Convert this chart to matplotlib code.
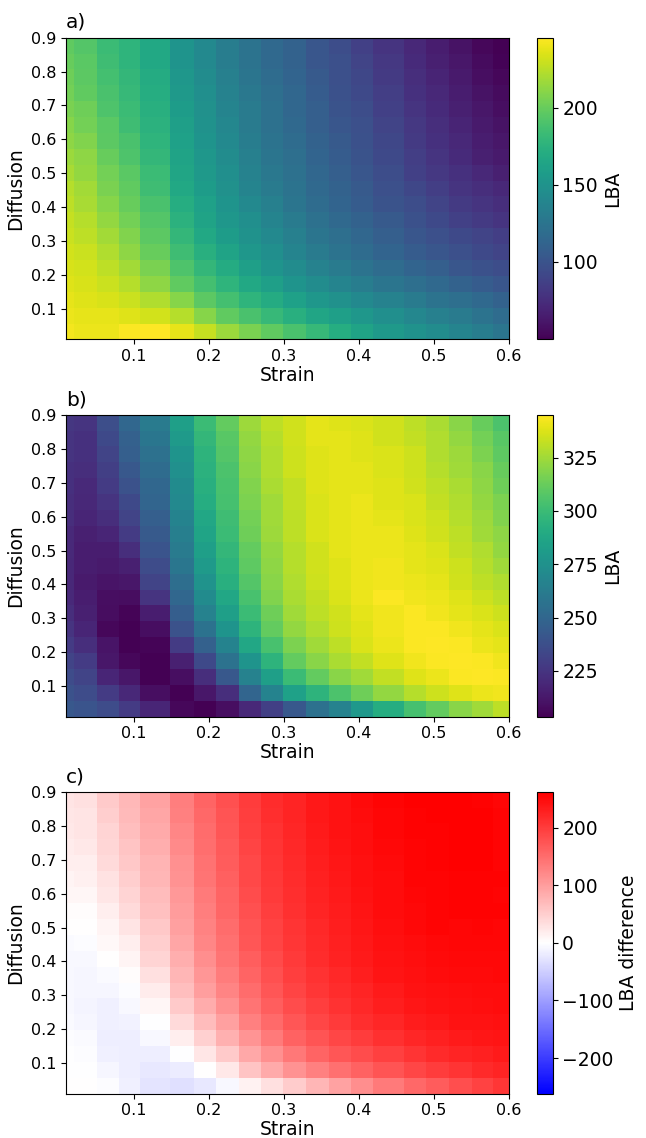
import numpy as np
import matplotlib
matplotlib.use("Agg")
import matplotlib.pyplot as plt

# grid edges (strain columns, diffusion rows)
strain_edges = [0.010, 0.021, 0.051, 0.080, 0.109, 0.149, 0.180, 0.210, 0.240, 0.269, 0.299,
                0.330, 0.360, 0.390, 0.419, 0.460, 0.490, 0.520, 0.550, 0.579, 0.600]
diffusion_edges = [0.010, 0.057, 0.104, 0.151, 0.197, 0.244, 0.291, 0.338, 0.385, 0.432,
                   0.478, 0.525, 0.572, 0.619, 0.666, 0.713, 0.760, 0.807, 0.853, 0.900]

# LBA, one list per strain column, diffusion ascending
lba_a_cols = [
    [242, 240, 238, 236, 234, 232, 230, 228, 226, 224, 220, 216, 212, 210, 206, 204, 202, 200, 198],
    [240, 238, 236, 234, 232, 230, 226, 224, 220, 218, 214, 212, 208, 204, 202, 198, 196, 195, 193],
    [240, 238, 234, 230, 226, 222, 218, 214, 210, 206, 204, 200, 196, 195, 191, 189, 187, 185, 183],
    [244, 236, 230, 224, 218, 212, 208, 204, 200, 198, 195, 191, 189, 185, 183, 181, 179, 177, 177],
    [245, 232, 222, 212, 206, 200, 196, 193, 189, 185, 183, 179, 177, 175, 173, 171, 169, 167, 167],
    [238, 224, 210, 198, 191, 185, 179, 175, 171, 167, 165, 163, 161, 159, 157, 155, 153, 151, 151],
    [228, 210, 196, 187, 179, 173, 167, 163, 161, 157, 155, 153, 151, 149, 148, 146, 144, 142, 142],
    [216, 198, 187, 177, 169, 163, 157, 153, 151, 148, 146, 144, 142, 140, 138, 136, 134, 132, 132],
    [206, 189, 177, 167, 159, 153, 149, 146, 142, 138, 136, 134, 132, 130, 130, 128, 126, 124, 124],
    [198, 181, 169, 159, 151, 146, 142, 138, 134, 130, 128, 126, 124, 122, 122, 120, 118, 116, 116],
    [189, 173, 161, 151, 144, 138, 134, 130, 126, 124, 122, 120, 118, 116, 114, 114, 112, 110, 110],
    [181, 165, 153, 144, 136, 130, 126, 122, 118, 116, 114, 112, 110, 108, 108, 106, 104, 102, 102],
    [171, 159, 148, 138, 130, 124, 120, 116, 112, 110, 108, 106, 104, 102, 100, 98, 97, 97, 95],
    [163, 153, 142, 132, 124, 118, 114, 110, 106, 104, 102, 100, 98, 97, 95, 93, 91, 89, 87],
    [155, 146, 136, 126, 118, 112, 108, 104, 100, 97, 95, 93, 91, 89, 87, 85, 83, 81, 79],
    [149, 140, 130, 120, 112, 106, 102, 98, 95, 91, 87, 85, 83, 81, 79, 77, 75, 73, 71],
    [144, 134, 124, 116, 108, 102, 97, 93, 89, 85, 81, 79, 77, 75, 73, 71, 69, 67, 65],
    [138, 130, 120, 110, 102, 97, 93, 87, 83, 79, 77, 73, 71, 69, 67, 65, 63, 61, 59],
    [132, 124, 116, 106, 98, 93, 89, 83, 79, 75, 71, 67, 65, 63, 61, 59, 57, 55, 53],
    [126, 118, 110, 102, 95, 89, 85, 79, 75, 71, 67, 63, 61, 59, 57, 55, 53, 51, 50],
]

lba_b_cols = [
    [242, 239, 236, 232, 228, 225, 222, 220, 219, 219, 220, 220, 222, 222, 223, 223, 225, 225, 226],
    [240, 236, 232, 228, 222, 218, 216, 215, 213, 215, 215, 216, 218, 219, 220, 222, 223, 223, 225],
    [236, 228, 218, 212, 211, 206, 208, 209, 211, 213, 215, 218, 222, 225, 228, 230, 232, 235, 237],
    [228, 219, 212, 206, 204, 204, 205, 208, 212, 216, 222, 228, 232, 235, 239, 242, 246, 247, 250],
    [218, 209, 204, 204, 205, 209, 215, 225, 232, 236, 240, 243, 246, 249, 250, 253, 256, 259, 262],
    [206, 204, 209, 216, 228, 239, 245, 250, 254, 259, 262, 264, 267, 270, 271, 274, 277, 280, 283],
    [204, 212, 222, 235, 247, 257, 266, 271, 276, 280, 283, 286, 288, 291, 293, 294, 295, 297, 300],
    [209, 222, 242, 257, 267, 277, 283, 288, 293, 295, 297, 300, 301, 303, 304, 305, 307, 308, 311],
    [219, 249, 266, 277, 288, 295, 300, 304, 307, 310, 311, 314, 315, 317, 318, 320, 321, 322, 324],
    [230, 267, 283, 295, 304, 311, 314, 318, 320, 321, 322, 324, 325, 325, 327, 328, 328, 329, 331],
    [242, 284, 300, 311, 317, 322, 325, 327, 328, 329, 329, 331, 331, 332, 332, 334, 334, 335, 335],
    [256, 295, 311, 320, 325, 328, 331, 332, 334, 335, 335, 337, 337, 337, 338, 338, 338, 339, 339],
    [266, 305, 320, 327, 331, 334, 335, 337, 338, 338, 339, 339, 339, 339, 339, 339, 339, 339, 338],
    [279, 314, 325, 332, 337, 338, 339, 341, 341, 341, 341, 341, 341, 341, 339, 339, 338, 338, 337],
    [291, 322, 332, 338, 341, 342, 342, 344, 342, 342, 341, 341, 339, 338, 338, 337, 337, 335, 335],
    [303, 329, 338, 342, 344, 344, 344, 342, 341, 339, 339, 338, 337, 337, 335, 334, 334, 332, 331],
    [311, 334, 341, 344, 345, 344, 342, 341, 339, 338, 337, 335, 334, 332, 331, 329, 328, 328, 327],
    [320, 338, 344, 345, 344, 342, 339, 338, 335, 334, 332, 331, 329, 328, 327, 325, 324, 322, 320],
    [325, 341, 345, 344, 341, 339, 337, 334, 331, 329, 328, 325, 324, 322, 321, 320, 317, 315, 312],
    [331, 342, 344, 342, 339, 337, 334, 331, 328, 325, 322, 321, 318, 317, 314, 312, 310, 308, 305],
]

lba_a = np.array(lba_a_cols, dtype=float).T
lba_b = np.array(lba_b_cols, dtype=float).T
lba_diff = lba_b - lba_a
lim = np.abs(lba_diff).max()

panels = [
    ("a)", lba_a, "viridis", 49.5, 245.5, [100, 150, 200], "LBA"),
    ("b)", lba_b, "viridis", 203.5, 345.0, [225, 250, 275, 300, 325], "LBA"),
    ("c)", lba_diff, "bwr", -lim, lim, [-200, -100, 0, 100, 200], "LBA difference"),
]

fig = plt.figure(figsize=(6.46, 11.38), dpi=100)
bottoms = [0.7017, 0.3702, 0.0389]

for (tag, data, cmap, vmin, vmax, cticks, clabel), b in zip(panels, bottoms):
    ax = fig.add_axes([0.1022, b, 0.6858, 0.2652])
    cax = fig.add_axes([0.8305, b, 0.0248, 0.2652])
    mesh = ax.pcolormesh(strain_edges, diffusion_edges, data, cmap=cmap,
                         vmin=vmin, vmax=vmax, shading="flat")
    ax.set_xlim(0.01, 0.6)
    ax.set_ylim(0.01, 0.9)
    ax.set_xticks([0.1, 0.2, 0.3, 0.4, 0.5, 0.6])
    ax.set_yticks([0.1, 0.2, 0.3, 0.4, 0.5, 0.6, 0.7, 0.8, 0.9])
    ax.tick_params(labelsize=11.5)
    ax.set_xlabel("Strain", fontsize=13.5, labelpad=1)
    ax.set_ylabel("Diffusion", fontsize=13.5)
    ax.set_title(tag, loc="left", fontsize=14.5, pad=7)

    cb = fig.colorbar(mesh, cax=cax)
    cb.set_ticks(cticks)
    cb.ax.tick_params(labelsize=13.5)
    cb.set_label(clabel, fontsize=13.5)

fig.savefig("out.png", dpi=100)
